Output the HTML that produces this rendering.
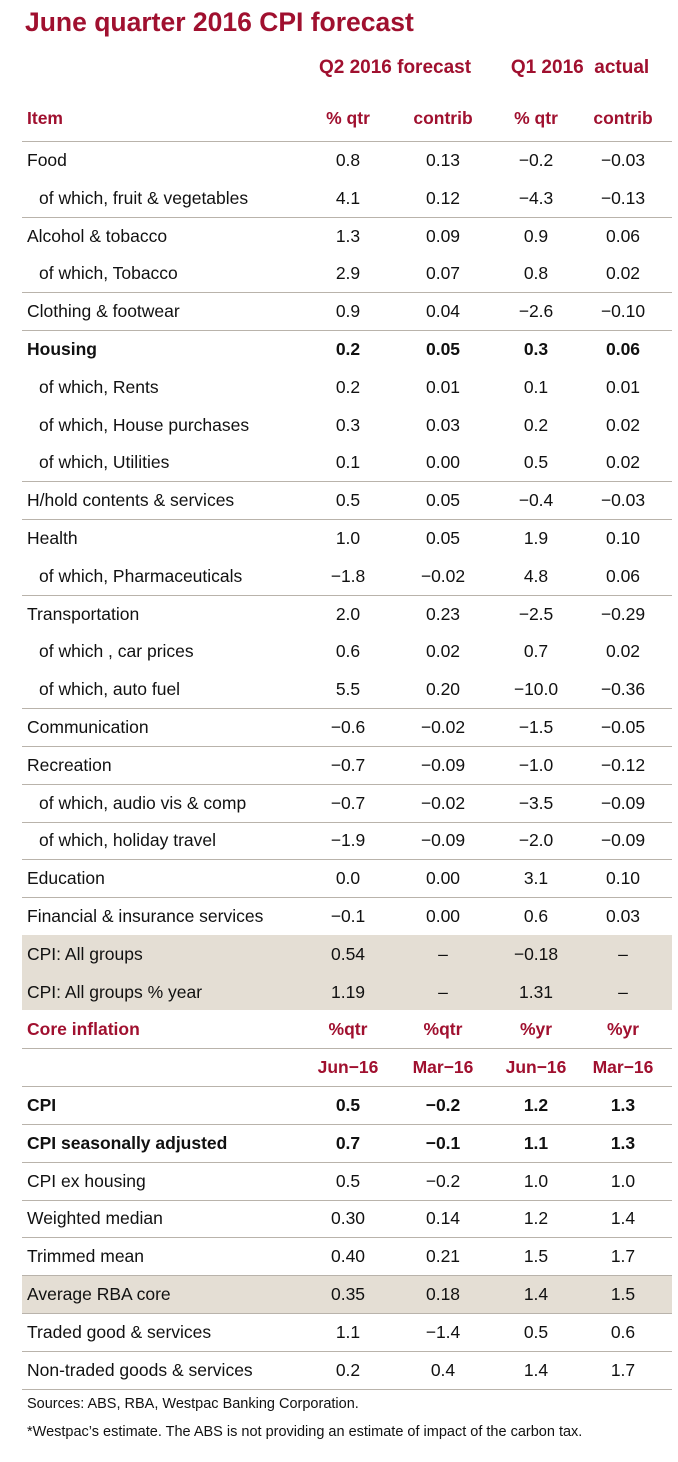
<!DOCTYPE html>
<html><head><meta charset="utf-8">
<style>
body{margin:0;width:678px;height:1462px;background:#fff;position:relative;font-family:"Liberation Sans",sans-serif;color:#111;overflow:hidden}
.t{position:absolute;white-space:nowrap;line-height:20px;transform:translateY(-50%)}
.red{color:#a0102f;font-weight:bold}
.c{text-align:center;width:100px}
.ln{position:absolute;left:22px;width:650px;height:0;border-top:1.5px solid #b9b3ab}
.sh{position:absolute;left:22px;width:650px;background:#e4ded4}
</style></head><body>
<div class="t red" style="left:25px;top:22px;font-size:26.5px">June quarter 2016 CPI forecast</div>
<div class="t red c" style="left:315px;width:160px;top:68px;font-size:19px">Q2 2016 forecast</div>
<div class="t red c" style="left:500px;width:160px;top:68px;font-size:19px">Q1 2016&nbsp; actual</div>
<div id="root"></div>
<div class="t" style="left:27px;top:1404px;font-size:14.5px">Sources: ABS, RBA, Westpac Banking Corporation.</div>
<div class="t" style="left:27px;top:1432px;font-size:14.5px">*Westpac’s estimate. The ABS is not providing an estimate of impact of the carbon tax.</div>
<script>
const labels=["Food","of which, fruit & vegetables","Alcohol & tobacco","of which, Tobacco","Clothing & footwear","Housing","of which, Rents","of which, House purchases","of which, Utilities","H/hold contents & services","Health","of which, Pharmaceuticals","Transportation","of which , car prices","of which, auto fuel","Communication","Recreation","of which, audio vis & comp","of which, holiday travel","Education","Financial & insurance services","CPI: All groups","CPI: All groups % year","Core inflation","","CPI","CPI seasonally adjusted","CPI ex housing","Weighted median","Trimmed mean","Average RBA core","Traded good & services","Non-traded goods & services"];
const col1=["0.8","4.1","1.3","2.9","0.9","0.2","0.2","0.3","0.1","0.5","1.0","−1.8","2.0","0.6","5.5","−0.6","−0.7","−0.7","−1.9","0.0","−0.1","0.54","1.19","%qtr","Jun−16","0.5","0.7","0.5","0.30","0.40","0.35","1.1","0.2"];
const col2=["0.13","0.12","0.09","0.07","0.04","0.05","0.01","0.03","0.00","0.05","0.05","−0.02","0.23","0.02","0.20","−0.02","−0.09","−0.02","−0.09","0.00","0.00","–","–","%qtr","Mar−16","−0.2","−0.1","−0.2","0.14","0.21","0.18","−1.4","0.4"];
const col3=["−0.2","−4.3","0.9","0.8","−2.6","0.3","0.1","0.2","0.5","−0.4","1.9","4.8","−2.5","0.7","−10.0","−1.5","−1.0","−3.5","−2.0","3.1","0.6","−0.18","1.31","%yr","Jun−16","1.2","1.1","1.0","1.2","1.5","1.4","0.5","1.4"];
const col4=["−0.03","−0.13","0.06","0.02","−0.10","0.06","0.01","0.02","0.02","−0.03","0.10","0.06","−0.29","0.02","−0.36","−0.05","−0.12","−0.09","−0.09","0.10","0.03","–","–","%yr","Mar−16","1.3","1.3","1.0","1.4","1.7","1.5","0.6","1.7"];
const boldRows=[5,25,26];
const redRows=[23,24];
const shadedRows=[21,22,30];
const lineAfter=[1,3,4,8,9,11,14,15,16,17,18,19,23,24,25,26,27,28,29,30,31,32];
const root=document.getElementById('root');
const Y0=160,STEP=37.8;
const cy=i=>Y0+i*STEP;
const colX=[298,393,486,573];
shadedRows.forEach(i=>{
  const d=document.createElement('div');
  d.className='sh';
  
  
  d.style.top=(cy(i)-STEP/2)+'px';d.style.height=STEP+'px';
  root.appendChild(d);
});
function addLine(y){
  const d=document.createElement('div');d.className='ln';
  
  
  d.style.top=y+'px';root.appendChild(d);
}
addLine(cy(0)-STEP/2);
lineAfter.forEach(i=>addLine(cy(i)+STEP/2));
function addText(txt,x,y,cls,center,name,bold){
  const d=document.createElement('div');
  d.className='t '+cls+(center?' c':'');
  
  
  d.style.left=x+'px';d.style.top=y+'px';d.style.fontSize='17.5px';
  if(bold)d.style.fontWeight='bold';
  d.textContent=txt;root.appendChild(d);
}
addText("Item",27,118,'red',false,'item-header');
["% qtr","contrib","% qtr","contrib"].forEach((h,k)=>addText(h,colX[k],118,'red',true,'column-header'));
labels.forEach((lab,i)=>{
  const y=cy(i);
  const cls=redRows.includes(i)?'red':'';
  const b=boldRows.includes(i);
  const indent=lab.startsWith('of which')?39:27;
  if(lab) addText(lab,indent,y,cls,false,'row-label',b);
  [col1,col2,col3,col4].forEach((c,k)=>addText(c[i],colX[k],y,cls,true,'cell-value',b));
});
</script>
</body></html>
